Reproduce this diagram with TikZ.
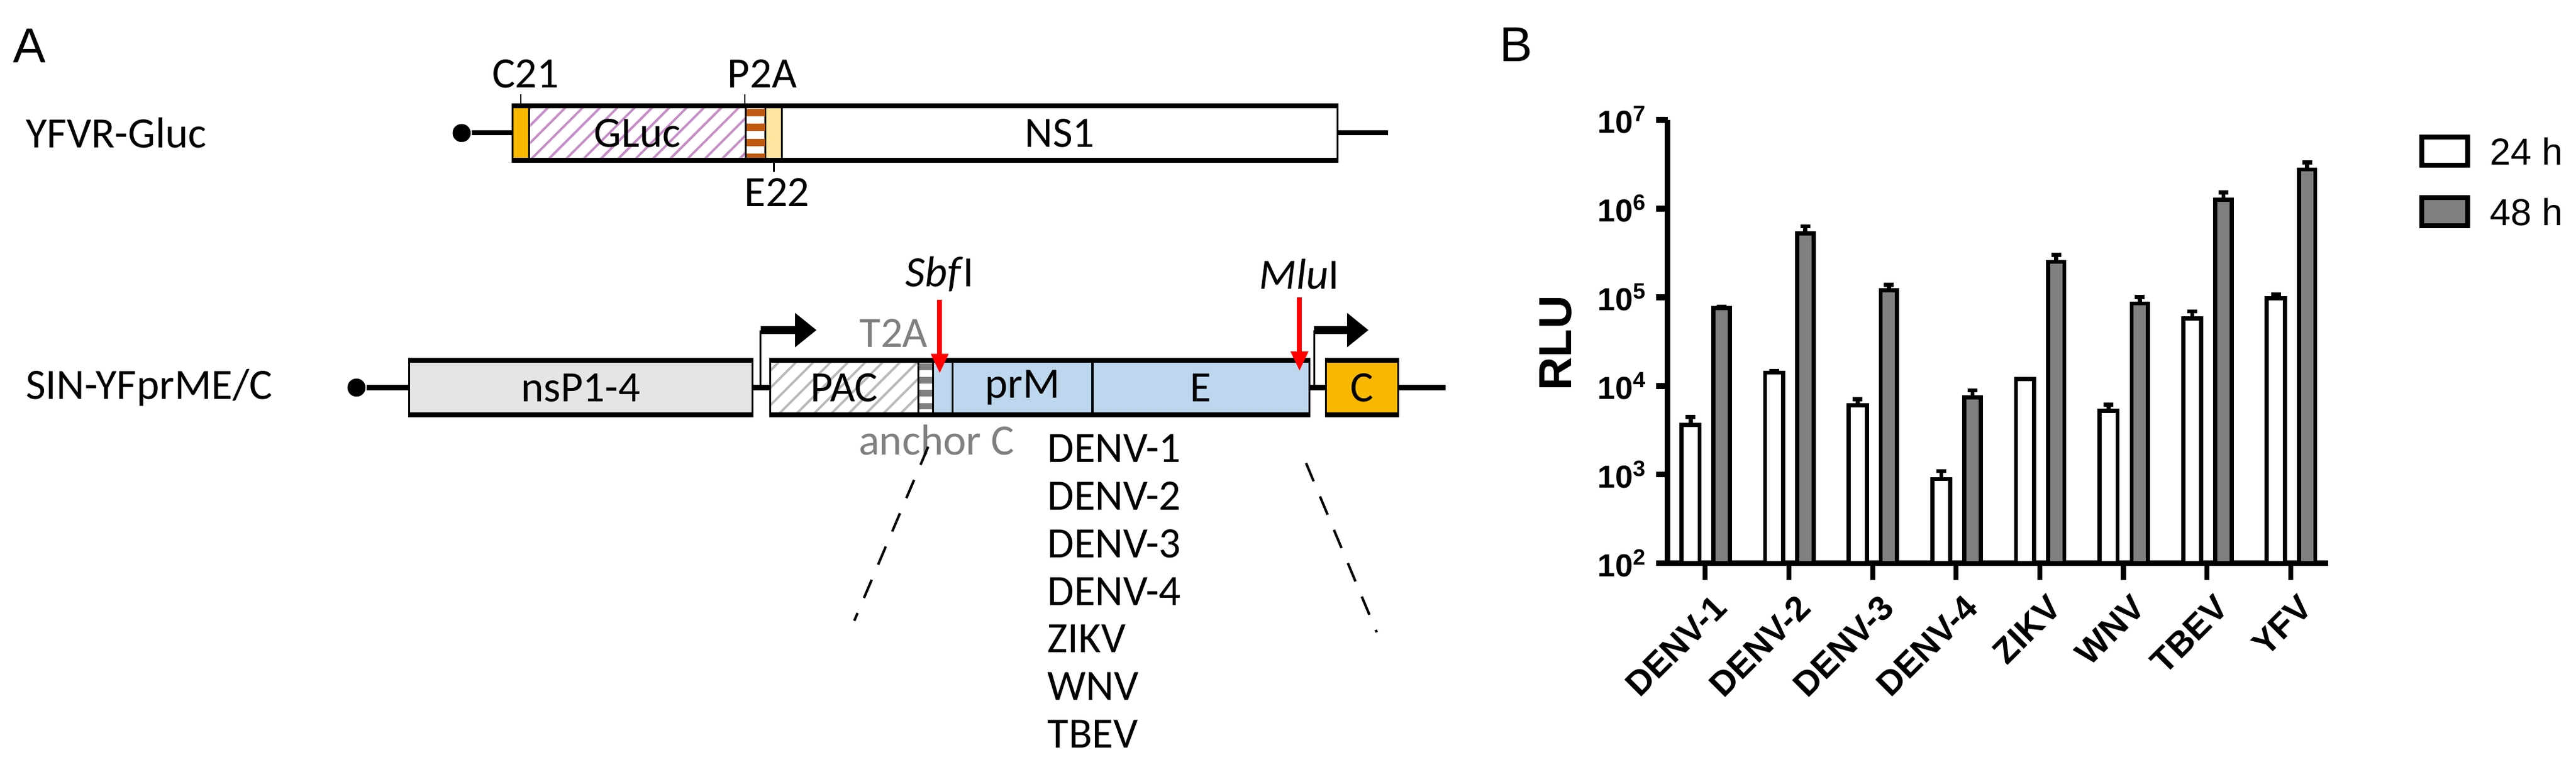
\documentclass[tikz,border=0pt]{standalone}
\usepackage{fontspec}
\setmainfont{Carlito}
\newfontfamily\arialf{Liberation Sans}
\usepackage{tikz}
\usetikzlibrary{
	arrows.meta,
	calc,
	patterns,
	positioning,
}
\definecolor{corange}{HTML}{F8B800}
\definecolor{clblue}{HTML}{BDD7EE}
\definecolor{cpale}{HTML}{FFE6A0}
\definecolor{cbrown}{HTML}{C05A10}
\definecolor{cbar}{HTML}{808080}
\tikzset{seg/.style={
	draw,
	rectangle,
	inner sep=0mm,
	minimum height=3.2mm,
	line width=0.12mm,
	font=\fontsize{7.5}{8}\selectfont,
}}
\tikzset{txt/.style={
	draw=none,
	inner sep=0.3mm,
	font=\fontsize{7.5}{8}\selectfont,
}}
\tikzset{gtxt/.style={
	txt,
	text=gray,
}}
\tikzset{rail/.style={
	line width=0.3mm,
}}
\tikzset{dotnode/.style={
	circle,
	fill=black,
	inner sep=0mm,
	minimum size=1.1mm,
}}
\tikzset{promoter/.style={
	line width=0.5mm,
	-{Triangle[length=1.3mm,width=2mm]},
}}
\tikzset{site/.style={
	red,
	line width=0.3mm,
	-{Triangle[length=1.2mm,width=1mm]},
}}
\tikzset{btxt/.style={
	draw=none,
	inner sep=0.3mm,
	font=\arialf\bfseries\fontsize{6}{7}\selectfont,
}}

\begin{document}
\begin{tikzpicture}[x=0.01cm,y=-0.01cm]
\useasboundingbox (0,0) rectangle (1568,473);

\node[txt, font=\arialf\fontsize{8.5}{9}\selectfont](lA) at (18,28) {A};
\node[txt, font=\arialf\fontsize{8.5}{9}\selectfont](lB) at (923,27) {B};

% YFVR-Gluc
\node[txt, anchor=west](yfvr) at (12,81) {YFVR-Gluc};
\node[dotnode](d1) at (281,81) {};
\node[seg, fill=corange, minimum width=1mm](c21) at (317,81) {};
\node[seg, pattern=north east lines, pattern color=violet!45, minimum width=13.2mm](gluc) at (388,81) {GLuc};
\node[seg, fill=white, minimum width=1.2mm](p2a) at (460,81) {};
\node[seg, fill=cpale, minimum width=1mm](e22) at (471,81) {};
\node[seg, fill=white, minimum width=33.8mm](ns1) at (645,81) {NS1};
\coordinate (end1) at (845,81);
\draw[cbrown, line width=1.1mm, dash pattern=on 0.45mm off 0.45mm]
	([yshift=-0.2mm]p2a.north) -- (p2a.south);
\draw[rail] (d1) -- (c21.west);
\draw[rail] (ns1.east) -- (end1);
\draw[rail] (c21.north west) -- (ns1.north east);
\draw[rail] (c21.south west) -- (ns1.south east);

\node[txt](lc21) at (320,45) {C21};
\node[txt](lp2a) at (464,45) {P2A};
\node[txt](le22) at (473,117) {E22};
\draw[line width=0.1mm] (lc21.south -| c21) -- (c21.north);
\draw[line width=0.1mm] (lp2a.south -| p2a.west) -- (p2a.north west);
\draw[line width=0.1mm] (e22.south) -- (le22.north -| e22);

% SIN-YFprME/C
\node[txt, anchor=west](sin) at (12,236) {SIN-YFprME/C};
\node[dotnode](d2) at (217,236) {};
\node[seg, fill=gray!20, minimum width=20.9mm](nsp) at (353.5,236) {nsP1-4};
\node[seg, pattern=north east lines, pattern color=gray!55, minimum width=9mm](pac) at (514,236) {PAC};
\node[seg, fill=white, minimum width=0.9mm](t2a) at (563.5,236) {};
\node[seg, fill=clblue, minimum width=1.2mm](anc) at (574,236) {};
\node[seg, fill=clblue, minimum width=8.5mm](prm) at (622.5,236) {prM};
\node[seg, fill=clblue, minimum width=13.2mm](env) at (731,236) {E};
\node[seg, fill=corange, minimum width=4.4mm](cap) at (829,236) {C};
\coordinate (end2) at (880,236);
\draw[gray, line width=0.8mm, dash pattern=on 0.4mm off 0.4mm]
	([yshift=-0.2mm]t2a.north) -- (t2a.south);
\draw[rail] (d2) -- (nsp.west);
\draw[rail] (nsp.east) -- (pac.west);
\draw[rail] (env.east) -- (cap.west);
\draw[rail] (cap.east) -- (end2);
\draw[rail] (nsp.north west) -- (nsp.north east);
\draw[rail] (nsp.south west) -- (nsp.south east);
\draw[rail] (pac.north west) -- (env.north east);
\draw[rail] (pac.south west) -- (env.south east);
\draw[rail] (cap.north west) -- (cap.north east);
\draw[rail] (cap.south west) -- (cap.south east);

% promoters
\coordinate (pr1) at (463,236);
\coordinate (pr1t) at (463,201);
\coordinate (pr1e) at (497,201);
\coordinate (pr2) at (800,236);
\coordinate (pr2t) at (800,201);
\coordinate (pr2e) at (833,201);
\draw[line width=0.1mm] (pr1) -- (pr1t);
\draw[promoter] (pr1t) -- (pr1e);
\draw[line width=0.1mm] (pr2) -- (pr2t);
\draw[promoter] (pr2t) -- (pr2e);

% sites
\node[txt](sbf) at (572,167) {\textit{Sbf}I};
\node[txt](mlu) at (791,167) {\textit{Mlu}I};
\draw[site] ([yshift=-0.1mm]sbf.south) -- ([yshift=-4.6mm]sbf.south);
\draw[site] ([yshift=-0.1mm]mlu.south) -- ([yshift=-4.6mm]mlu.south);
\node[gtxt](lt2a) at (544,203) {T2A};
\node[gtxt](lanc) at (570,268) {anchor C};

% inserts
\node[txt, anchor=west](i1) at (634,273) {DENV-1};
\node[txt, anchor=west](i2) at (634,302) {DENV-2};
\node[txt, anchor=west](i3) at (634,331) {DENV-3};
\node[txt, anchor=west](i4) at (634,360) {DENV-4};
\node[txt, anchor=west](i5) at (634,389) {ZIKV};
\node[txt, anchor=west](i6) at (634,418) {WNV};
\node[txt, anchor=west](i7) at (634,447) {TBEV};
\coordinate (z1a) at (565,272);
\coordinate (z1b) at (520,378);
\coordinate (z2a) at (795,282);
\coordinate (z2b) at (838,385);
\draw[line width=0.15mm, dash pattern=on 1.2mm off 1mm] (z1a) -- (z1b);
\draw[line width=0.15mm, dash pattern=on 1.2mm off 1mm] (z2a) -- (z2b);

% B: axes
\coordinate (o) at (1015,343);
\coordinate (ytop) at (1015,73);
\coordinate (xend) at (1417,343);
\draw[line width=0.35mm] (ytop) -- (o) -- (xend);
\foreach \n in {2,...,7}{
	\draw[line width=0.35mm] (1008,{343-(\n-2)*54}) -- (1015,{343-(\n-2)*54});
	\node[btxt, anchor=east, font=\arialf\bfseries\fontsize{5.5}{6}\selectfont](yt\n) at (1007,{343-(\n-2)*54}) {10\textsuperscript{\n}};
}
\node[btxt, rotate=90, font=\arialf\bfseries\fontsize{8}{9}\selectfont](rlu) at (947,209) {RLU};

% B: bars
\foreach \i/\name/\a/\ea/\b/\eb in {
	0/DENV-1/3.56/3.65/4.88/4.89,
	1/DENV-2/4.15/4.17/5.72/5.80,
	2/DENV-3/3.78/3.85/5.08/5.14,
	3/DENV-4/2.95/3.04/3.87/3.95,
	4/ZIKV/4.08/4.08/5.40/5.48,
	5/WNV/3.72/3.79/4.93/5.00,
	6/TBEV/4.76/4.84/6.10/6.18,
	7/YFV/4.99/5.03/6.44/6.52}{
	\pgfmathsetmacro{\tx}{1038+50.9*\i}
	\draw[line width=0.3mm] (\tx,343) -- (\tx,353);
	\draw[line width=0.25mm] (\tx-9,{343-(\a-2)*54}) -- (\tx-9,{343-(\ea-2)*54})
		(\tx-12,{343-(\ea-2)*54}) -- (\tx-6,{343-(\ea-2)*54});
	\draw[line width=0.25mm] (\tx+10,{343-(\b-2)*54}) -- (\tx+10,{343-(\eb-2)*54})
		(\tx+7,{343-(\eb-2)*54}) -- (\tx+13,{343-(\eb-2)*54});
	\draw[line width=0.25mm, fill=white] (\tx-14.5,343) rectangle (\tx-3.5,{343-(\a-2)*54});
	\draw[line width=0.25mm, fill=cbar] (\tx+5,343) rectangle (\tx+15,{343-(\b-2)*54});
	\node[btxt, rotate=45, anchor=north east](xl\i) at (\tx+4,356) {\name};
}

% B: legend
\node[draw, line width=0.3mm, fill=white, minimum width=2.8mm, minimum height=1.7mm, inner sep=0](k24) at (1488,92) {};
\node[draw, line width=0.3mm, fill=cbar, minimum width=2.8mm, minimum height=1.7mm, inner sep=0](k48) at (1488,129) {};
\node[btxt, anchor=west, font=\arialf\fontsize{6.5}{7}\selectfont](t24) at (1512,92) {24 h};
\node[btxt, anchor=west, font=\arialf\fontsize{6.5}{7}\selectfont](t48) at (1512,129) {48 h};

\end{tikzpicture}
\end{document}
